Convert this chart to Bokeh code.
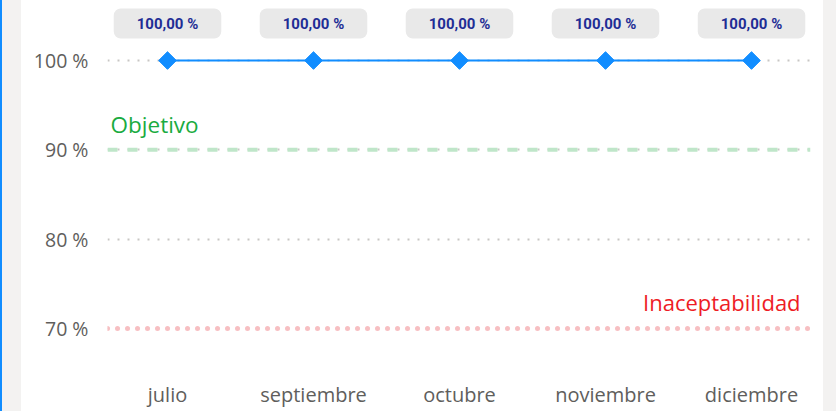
import math
from bokeh.plotting import figure
from bokeh.models import ColumnDataSource, FixedTicker, Span, Label, Range1d, Div
from bokeh.layouts import row
from bokeh.core.properties import value
from bokeh.embed import file_html
from bokeh.resources import INLINE

months = ["julio", "septiembre", "octubre", "noviembre", "diciembre"]
values = [100.0, 100.0, 100.0, 100.0, 100.0]
objetivo = 90
inaceptabilidad = 70
y_ticks = [70, 80, 90, 100]
y_tick_labels = {70: "70 %", 80: "80 %", 90: "90 %", 100: "100 %"}

FONT = "Open Sans"
xs = list(range(len(months)))
point_labels = [f"{v:.2f}".replace(".", ",") + " %" for v in values]
src = ColumnDataSource(dict(x=xs, y=values, lab=point_labels))

H = 411
p = figure(width=802, height=H, output_backend="svg", toolbar_location=None,
           x_range=Range1d(-0.411, 4.404), y_range=Range1d(65.30, 106.72),
           min_border_left=86, min_border_right=13, min_border_top=0,
           min_border_bottom=41)
p.outline_line_color = None
p.background_fill_color = "white"
p.border_fill_color = "white"

p.xgrid.grid_line_color = None
p.ygrid.ticker = FixedTicker(ticks=y_ticks)
p.ygrid.grid_line_color = "#c8c6c4"
p.ygrid.grid_line_width = 2
p.ygrid.grid_line_dash = "2 8"

p.yaxis.ticker = FixedTicker(ticks=y_ticks)
p.yaxis.major_label_overrides = y_tick_labels
p.xaxis.ticker = FixedTicker(ticks=xs)
p.xaxis.major_label_overrides = {i: m for i, m in enumerate(months)}
for ax in (p.xaxis[0], p.yaxis[0]):
    ax.axis_line_color = None
    ax.major_tick_line_color = None
    ax.minor_tick_line_color = None
    ax.major_tick_out = 0
    ax.major_tick_in = 0
    ax.minor_tick_out = 0
    ax.major_label_text_font = FONT
    ax.major_label_text_color = "#605e5c"
p.yaxis.major_label_text_font_size = "19.5px"
p.xaxis.major_label_text_font_size = "20px"
p.yaxis.major_label_standoff = 19
p.xaxis.major_label_standoff = 10

p.add_layout(Span(location=objetivo, dimension="width", line_color="#bfe6c9",
                  line_width=4, line_dash="10 10"))
p.add_layout(Span(location=inaceptabilidad, dimension="width", line_color="#f7bfc2",
                  line_width=5, line_dash="0 10", line_cap="round"))

p.line("x", "y", source=src, line_color="#118dff", line_width=2)
p.scatter("x", "y", source=src, marker="square", angle=math.pi / 4, size=12.5,
          fill_color="#118dff", line_color="#118dff")

p.text("x", "y", text="lab", source=src, y_offset=-37,
       text_align="center", text_baseline="middle",
       text_font=value("Roboto"), text_font_size="15px", text_font_style="bold",
       text_color="#1f2d95",
       background_fill_color="#e9e9e9", border_radius=7, padding=[23, 6])

p.add_layout(Label(x=-0.39, y=92.85, text="Objetivo", text_font=FONT,
                   text_font_size="22.5px", text_color="#1aab40",
                   text_baseline="alphabetic", text_align="left"))
p.add_layout(Label(x=4.336, y=73.0, text="Inaceptabilidad", text_font=FONT,
                   text_font_size="22px", text_color="#ee1c25",
                   text_baseline="alphabetic", text_align="right"))

left = Div(width=21, height=H, margin=0,
           styles={"background-color": "#f3f2f1",
                   "border-left": "2px solid #118dff",
                   "box-sizing": "border-box"})
right = Div(width=13, height=H, margin=0, styles={"background-color": "#f3f2f1"})
layout = row(left, p, right, spacing=0)

open("out.html", "w").write(file_html(layout, INLINE))
